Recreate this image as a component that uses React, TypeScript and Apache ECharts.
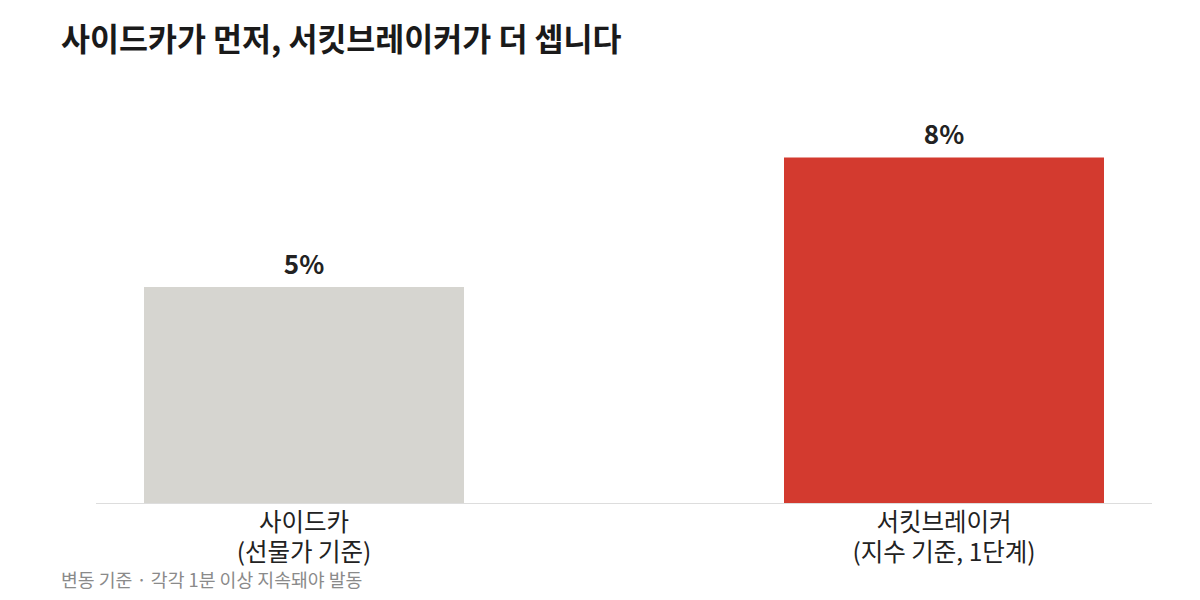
import React, { useEffect, useRef } from "react";
import * as echarts from "echarts";

const categories = ["사이드카\n(선물가 기준)", "서킷브레이커\n(지수 기준, 1단계)"];
const values = [5, 8];
const barColors = ["#d6d5d0", "#d33a2f"];
const titleText = "사이드카가 먼저, 서킷브레이커가 더 셉니다";
const noteText = "변동 기준 · 각각 1분 이상 지속돼야 발동";

const FONT = "'Noto Sans CJK KR', 'Noto Sans', sans-serif";
const OFF = 16; // inner canvas offset to the left

export default function App() {
  const ref = useRef<HTMLDivElement>(null);
  useEffect(() => {
    if (!ref.current) return;
    const chart = echarts.init(ref.current, null, { renderer: "svg" });
    chart.setOption({
      animation: false,
      backgroundColor: "#ffffff",
      textStyle: { fontFamily: FONT },
      title: {
        text: titleText,
        left: 56 + OFF,
        top: 16,
        textStyle: { fontFamily: FONT, fontSize: 31.5, fontWeight: "bold", color: "#1a1a1a" },
      },
      grid: { left: 0, right: 0, top: 71, bottom: 97, containLabel: false },
      xAxis: {
        type: "category",
        data: categories,
        axisLine: { show: false },
        axisTick: { show: false },
        axisLabel: {
          fontFamily: FONT,
          fontSize: 24.5,
          lineHeight: 30,
          color: "#222222",
          margin: 2,
          interval: 0,
        },
      },
      yAxis: {
        type: "value",
        min: 0,
        max: 10,
        show: false,
        splitLine: { show: false },
      },
      graphic: [
        {
          type: "line",
          shape: { x1: 96 + OFF, y1: 503.5, x2: 1152 + OFF, y2: 503.5 },
          style: { stroke: "#dddddd", lineWidth: 1 },
          z: 10,
        },
        {
          type: "text",
          left: 61 + OFF,
          top: 570,
          style: { text: noteText, fontFamily: FONT, fontSize: 18.3, fill: "#8a8a8a" },
        },
      ],
      series: [
        {
          type: "bar",
          barWidth: 320,
          data: values.map((v, i) => ({ value: v, itemStyle: { color: barColors[i] } })),
          label: {
            show: true,
            position: "top",
            distance: 12,
            formatter: "{c}%",
            fontFamily: FONT,
            fontSize: 26,
            fontWeight: "bold",
            color: "#222222",
          },
        },
      ],
    });
    return () => chart.dispose();
  }, []);
  return (
    <div style={{ position: "fixed", left: 0, top: 0, width: 1200, height: 600, overflow: "hidden" }}>
      <div ref={ref} style={{ position: "absolute", left: -OFF, top: 0, width: 1280, height: 600 }} />
    </div>
  );
}
